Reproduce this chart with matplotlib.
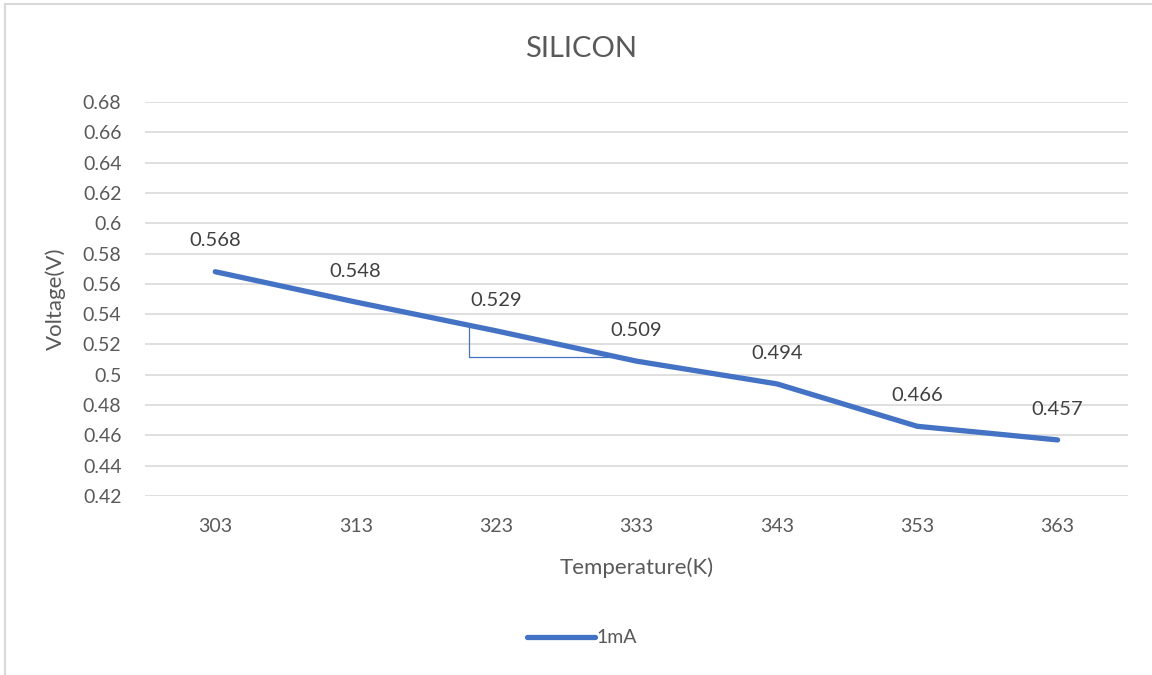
import matplotlib.pyplot as plt
from matplotlib.lines import Line2D

temps = ['303', '313', '323', '333', '343', '353', '363']
volts = [0.568, 0.548, 0.529, 0.509, 0.494, 0.466, 0.457]
yticks = [0.42, 0.44, 0.46, 0.48, 0.5, 0.52, 0.54, 0.56, 0.58, 0.6, 0.62, 0.64, 0.66, 0.68]
ytick_labels = ['0.42', '0.44', '0.46', '0.48', '0.5', '0.52', '0.54', '0.56', '0.58', '0.6',
                '0.62', '0.64', '0.66', '0.68']

# slope triangle drawn on the chart (x in category index units)
tri_x = [1.81, 1.81, 2.81]
tri_y = [0.5326, 0.5117, 0.5117]

blue = '#4472C4'
grey = '#595959'
plt.rcParams['font.family'] = ['Lato', 'DejaVu Sans']

fig = plt.figure(figsize=(11.52, 6.75), dpi=100)
ax = fig.add_axes([0.1259, 0.2652, 0.979 - 0.1259, 0.8489 - 0.2652])

xs = list(range(len(temps)))
ax.plot(xs, volts, color=blue, linewidth=3.8, solid_capstyle='round', label='1mA', zorder=3)
ax.plot(tri_x, tri_y, color=blue, linewidth=0.9, zorder=2)

for x, v in zip(xs, volts):
    ax.annotate(f'{v:g}', (x, v), xytext=(0, 16), textcoords='offset points',
                ha='center', va='bottom', fontsize=14.5, color='#404040')

ax.set_xlim(-0.5, len(temps) - 0.5)
ax.set_ylim(0.42, 0.68)
ax.set_xticks(xs)
ax.set_xticklabels(temps)
ax.set_yticks(yticks)
ax.set_yticklabels(ytick_labels)
ax.tick_params(length=0, labelsize=14, labelcolor=grey)
ax.tick_params(axis='y', pad=17)
ax.tick_params(axis='x', pad=16)
ax.grid(axis='y', color='#D9D9D9', linewidth=1.2)
ax.set_axisbelow(True)
for s in ax.spines.values():
    s.set_visible(False)

ax.set_xlabel('Temperature(K)', fontsize=16, color=grey, labelpad=16)
ax.set_ylabel('Voltage(V)', fontsize=16, color=grey, labelpad=12)
fig.text(0.504, 0.928, 'SILICON', ha='center', va='center', fontsize=21, color=grey)

handle = Line2D([0], [0], color=blue, linewidth=3.8, solid_capstyle='round')
fig.legend([handle], ['1mA'], loc='center', bbox_to_anchor=(0.505, 0.055), frameon=False,
           fontsize=14, labelcolor=grey, handlelength=3.5, handletextpad=0.1)

# chart border (left and top edges visible)
fig.add_artist(Line2D([5 / 1152, 5 / 1152], [0, 1 - 4 / 675], color='#D9D9D9', linewidth=1.5))
fig.add_artist(Line2D([5 / 1152, 1], [1 - 4 / 675, 1 - 4 / 675], color='#D9D9D9', linewidth=1.5))

fig.savefig('out.png', dpi=100)
